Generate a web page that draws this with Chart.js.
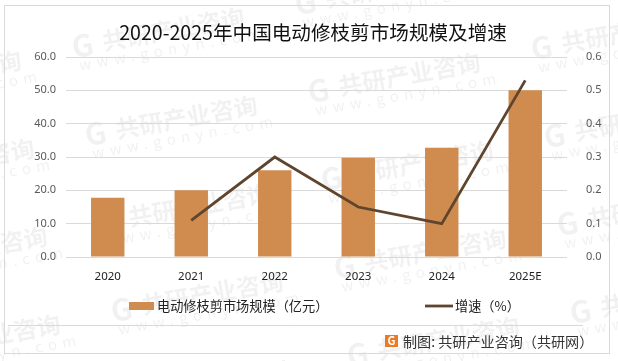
<!DOCTYPE html>
<html lang="zh">
<head>
<meta charset="utf-8">
<title>2020-2025年中国电动修枝剪市场规模及增速</title>
<script src="https://cdn.jsdelivr.net/npm/chart.js@4"></script>
<style>
  html, body { margin: 0; padding: 0; background: #fff; }
  canvas { display: block; }
</style>
</head>
<body>
<canvas id="grafico" width="618" height="361"></canvas>
<script>
const titulo = "2020-2025年中国电动修枝剪市场规模及增速";
const categorias = ["2020", "2021", "2022", "2023", "2024", "2025E"];
const mercado = [17.8, 20, 26, 29.8, 32.8, 50];
const crecimiento = [null, 0.11, 0.3, 0.15, 0.1, 0.53];
const nombreBarras = "电动修枝剪市场规模（亿元）";
const nombreLinea = "增速（%）";
const fuente = "制图: 共研产业咨询（共研网）";

const colorBarra = "#d08b4e";
const colorLinea = "#5f452e";
const CJK = '"Noto Sans CJK SC", "Noto Sans", sans-serif';

// Watermark, frame, footer and legend: everything around the chart itself
const fondo = {
  id: "fondo",
  beforeDraw(chart) {
    const c = chart.ctx;
    c.save();
    c.fillStyle = "#fff";
    c.fillRect(0, 0, 618, 361);

    // repeated stamp
    for (let i = -2; i < 4; i++) {
      for (let j = -2; j < 6; j++) {
        const x = 72 + i * 236 + j * 13;
        const y = 47 + i * 45 + j * 88;
        c.save();
        c.translate(x, y);
        c.rotate(-0.175);
        c.fillStyle = "rgba(0,0,0,0.055)";
        c.font = "bold 30px " + CJK;
        c.textBaseline = "middle";
        c.fillText("G", 0, 0);
        c.font = "bold 24px " + CJK;
        c.fillText("共研产业咨询", 31, 0);
        c.fillStyle = "rgba(0,0,0,0.06)";
        c.font = "15px " + CJK;
        c.letterSpacing = "5.5px";
        c.fillText("www.gonyn.com", 4, 19);
        c.restore();
      }
    }

    c.strokeStyle = "#d9d9d9";
    c.lineWidth = 1;
    c.strokeRect(4.5, 5.5, 605, 348);
    c.beginPath();
    c.moveTo(8, 325.5);
    c.lineTo(583, 325.5);
    c.stroke();
    c.restore();
  },
  afterDraw(chart) {
    const c = chart.ctx;
    c.save();

    // legend
    c.fillStyle = colorBarra;
    c.fillRect(129, 302, 25, 8);
    c.strokeStyle = colorLinea;
    c.lineWidth = 2.8;
    c.beginPath();
    c.moveTo(425, 306);
    c.lineTo(453, 306);
    c.stroke();
    c.fillStyle = "#222";
    c.font = "13.2px " + CJK;
    c.textBaseline = "middle";
    c.fillText(nombreBarras, 157, 306);
    c.fillText(nombreLinea, 455, 306);

    // small logo next to the source
    c.fillStyle = "#ec7a22";
    c.fillRect(385, 335, 13, 12);
    c.fillStyle = "#fff";
    c.font = "bold 11px " + CJK;
    c.textAlign = "center";
    c.fillText("G", 391.5, 341);
    c.fillStyle = "#333";
    c.font = "14.1px " + CJK;
    c.textAlign = "left";
    c.fillText(fuente, 403, 342);
    c.restore();
  },
  afterLayout(chart) {
    // the title sits a little right of centre in the original
    chart.titleBlock.left += 4;
    chart.titleBlock.right += 4;
  }
};

const chart = new Chart(document.getElementById("grafico").getContext("2d"), {
  type: "bar",
  data: {
    labels: categorias,
    datasets: [
      {
        label: nombreBarras,
        data: mercado,
        backgroundColor: colorBarra,
        borderWidth: 0,
        barPercentage: 0.4,
        categoryPercentage: 1,
        yAxisID: "y",
        order: 1
      },
      {
        type: "line",
        label: nombreLinea,
        data: crecimiento,
        borderColor: colorLinea,
        backgroundColor: colorLinea,
        borderWidth: 2.8,
        tension: 0,
        pointRadius: 0,
        yAxisID: "y1",
        order: 0
      }
    ]
  },
  options: {
    responsive: false,
    animation: false,
    layout: { padding: { top: 0, left: 0, right: 0, bottom: 71 } },
    plugins: {
      tooltip: { enabled: false },
      legend: { display: false },
      title: {
        display: true,
        text: titulo,
        color: "#111",
        font: { family: CJK, size: 19.6, weight: "normal" },
        padding: { top: 21, bottom: 12.5 }
      }
    },
    scales: {
      x: {
        grid: { display: false },
        border: { display: false },
        ticks: { color: "#222", padding: 5, maxRotation: 0, font: { family: '"Noto Sans", sans-serif', size: 11.5 } },
        afterFit(s) { s.height = 33; }
      },
      y: {
        position: "left",
        min: 0,
        max: 60,
        grid: { color: "#d9d9d9", drawTicks: false },
        border: { display: false },
        ticks: {
          stepSize: 10,
          padding: 10,
          color: "#595959",
          font: { family: '"Noto Sans", sans-serif', size: 11 },
          callback: (v) => v.toFixed(1)
        },
        afterFit(s) { s.width = 66; }
      },
      y1: {
        position: "right",
        min: 0,
        max: 0.6,
        grid: { display: false },
        border: { display: false },
        ticks: {
          stepSize: 0.1,
          padding: 11,
          color: "#595959",
          font: { family: '"Noto Sans", sans-serif', size: 11 },
          callback: (v) => v.toFixed(1)
        },
        afterFit(s) { s.width = 51; }
      }
    }
  },
  plugins: [fondo]
});
</script>
</body>
</html>
